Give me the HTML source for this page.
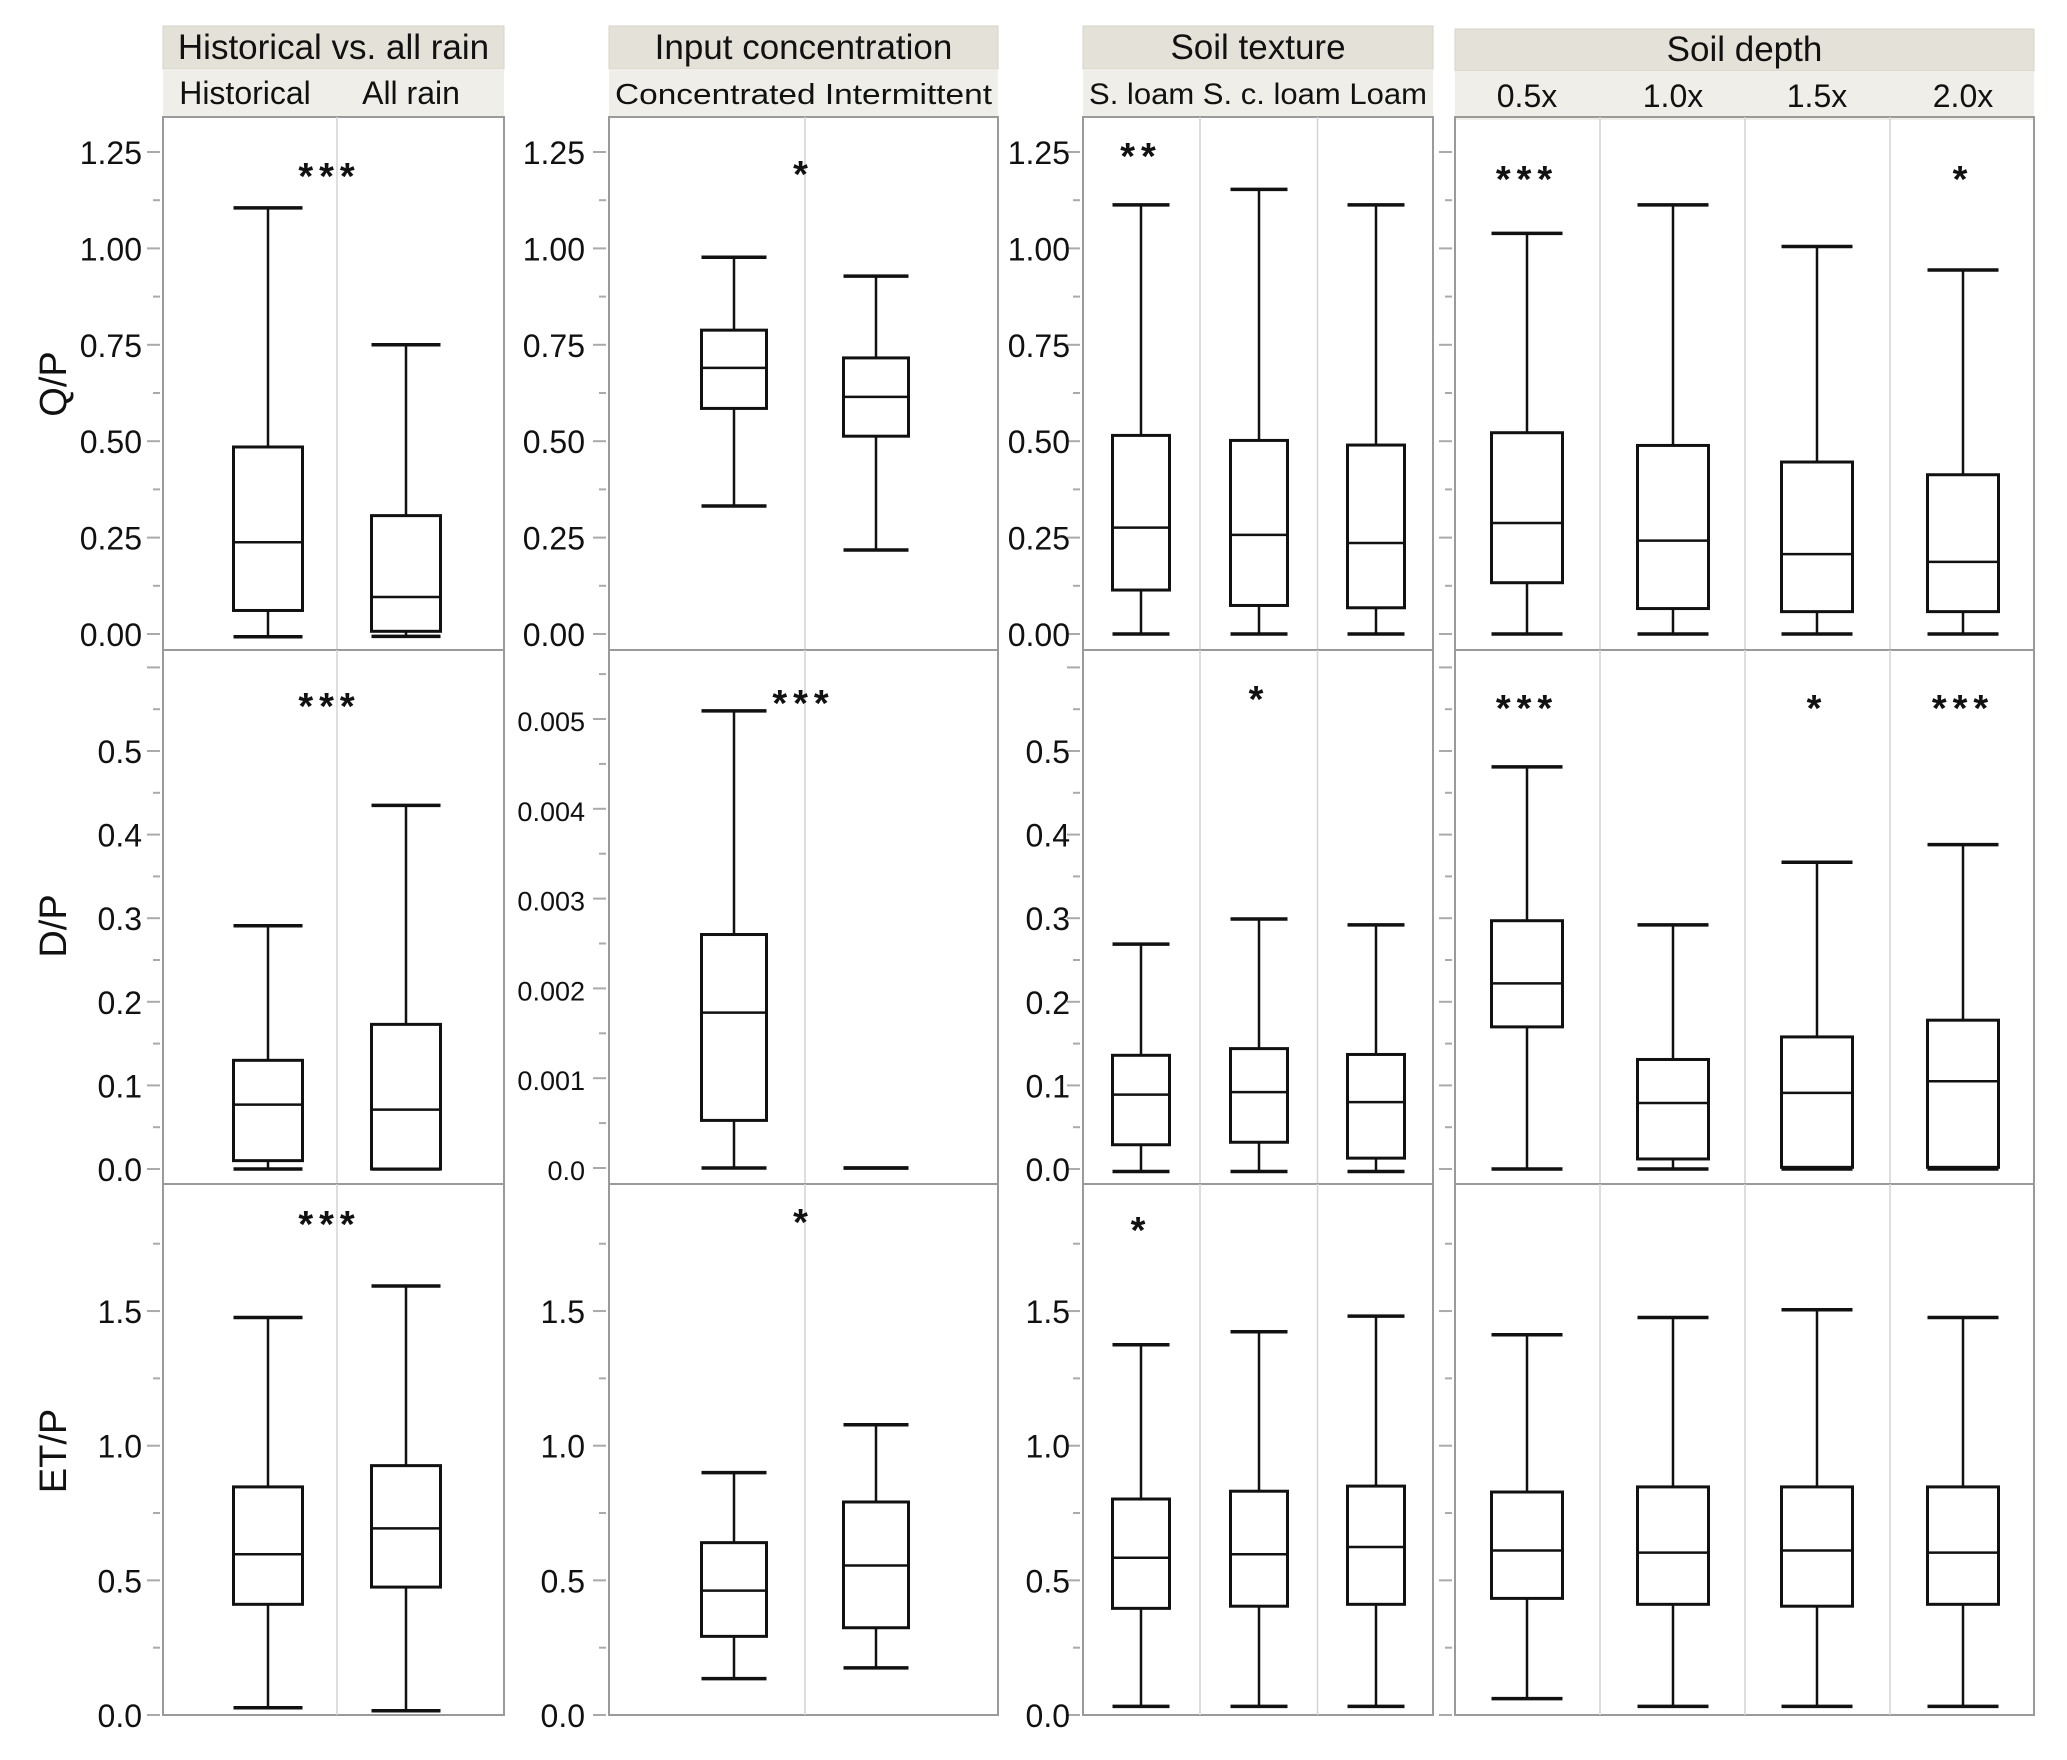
<!DOCTYPE html>
<html><head><meta charset="utf-8"><style>
html,body{margin:0;padding:0;background:#fff;}
svg{display:block;font-family:"Liberation Sans",sans-serif;}
</style></head><body>
<svg id="chart" width="2067" height="1760" viewBox="0 0 2067 1760" xmlns="http://www.w3.org/2000/svg"></svg>
<script>
// ===== data: [low whisker, Q1, median, Q3, high whisker] =====
const groupTitles = ['Historical vs. all rain','Input concentration','Soil texture','Soil depth'];
const catHist = ['Historical','All rain'];
const catConc = ['Concentrated','Intermittent'];
const catSoil = ['S. loam','S. c. loam','Loam'];
const catDepth = ['0.5x','1.0x','1.5x','2.0x'];
const rowTitles = ['Q/P','D/P','ET/P'];

const qpHist  = [[-0.007,0.061,0.238,0.485,1.105],[-0.006,0.007,0.096,0.307,0.75]];
const qpConc  = [[0.332,0.585,0.69,0.788,0.977],[0.218,0.513,0.615,0.716,0.928]];
const qpSoil  = [[0,0.114,0.276,0.515,1.113],[0,0.074,0.257,0.502,1.153],[0,0.068,0.236,0.49,1.113]];
const qpDepth = [[0,0.133,0.288,0.522,1.039],[0,0.066,0.242,0.489,1.113],[0,0.058,0.207,0.446,1.005],[0,0.058,0.187,0.413,0.944]];

const dpHist  = [[0,0.010,0.077,0.130,0.291],[0,0,0.071,0.173,0.435]];
const dpConc  = [[0,0.00053,0.00173,0.0026,0.00509],[0,0,0,0,0]];
const dpSoil  = [[-0.003,0.029,0.089,0.136,0.269],[-0.003,0.032,0.092,0.144,0.299],[-0.003,0.013,0.08,0.137,0.292]];
const dpDepth = [[0,0.17,0.222,0.297,0.481],[0,0.012,0.079,0.131,0.292],[0,0.002,0.091,0.158,0.367],[0,0.002,0.105,0.178,0.388]];

const etHist  = [[0.027,0.411,0.597,0.847,1.476],[0.016,0.475,0.693,0.926,1.593]];
const etConc  = [[0.135,0.292,0.462,0.64,0.9],[0.175,0.324,0.555,0.791,1.078]];
const etSoil  = [[0.032,0.396,0.584,0.802,1.375],[0.032,0.404,0.597,0.831,1.423],[0.032,0.411,0.624,0.85,1.481]];
const etDepth = [[0.061,0.433,0.611,0.828,1.412],[0.032,0.411,0.603,0.847,1.476],[0.032,0.404,0.611,0.847,1.505],[0.032,0.411,0.603,0.847,1.476]];

const tickQ = ['0.00','0.25','0.50','0.75','1.00','1.25'];
const tickD = ['0.0','0.1','0.2','0.3','0.4','0.5'];
const tickDc = ['0.0','0.001','0.002','0.003','0.004','0.005'];
const tickE = ['0.0','0.5','1.0','1.5'];

const sigQ = [['***'],['*'],['**','',''],['***','','','*']];
const sigD = [['***'],['***'],['','*',''],['***','','*','***']];
const sigE = [['***'],['*'],['*','',''],['','','','']];

// ===== layout =====
const NS='http://www.w3.org/2000/svg';
const svg=document.getElementById('chart');
function mk(tag,attrs,parent){const e=document.createElementNS(NS,tag);for(const k in attrs)e.setAttribute(k,attrs[k]);(parent||svg).appendChild(e);return e;}

const cols=[
 {x0:163,x1:504,centers:[268,406],bw:69,hTop:26,hMid:69,hBot:117,labX:142,cats:catHist,labels:true},
 {x0:609,x1:998,centers:[734,876],bw:65,hTop:26,hMid:69,hBot:117,labX:585,cats:catConc,labels:true},
 {x0:1083,x1:1433,centers:[1141,1259,1376],bw:57,hTop:26,hMid:69,hBot:117,labX:1070,cats:catSoil,labels:true},
 {x0:1455,x1:2034,centers:[1527,1673,1817,1963],bw:71,hTop:29,hMid:71,hBot:120,labX:0,cats:catDepth,labels:false}
];
const rows=[{top:117,bot:650},{top:650,bot:1184},{top:1184,bot:1715}];
const rowData=[[qpHist,qpConc,qpSoil,qpDepth],[dpHist,dpConc,dpSoil,dpDepth],[etHist,etConc,etSoil,etDepth]];
const rowSig=[sigQ,sigD,sigE];
function yScale(r,c,v){
  if(r===0) return 634 - v*385.6;
  if(r===1){ if(c===1) return 1168 - v*89800; return 1169 - v*836; }
  return 1715 - v*269.3;
}
function tickSet(r,c){
  if(r===0) return {labels:tickQ,step:0.25,minor:0.125};
  if(r===1){ if(c===1) return {labels:tickDc,step:0.001,minor:0.0005}; return {labels:tickD,step:0.1,minor:0.05}; }
  return {labels:tickE,step:0.5,minor:0.25};
}

cols.forEach((c,ci)=>{
  const h=mk('rect',{x:c.x0,y:c.hTop,width:c.x1-c.x0,height:c.hMid-c.hTop,fill:'#e4e2d8',stroke:'#d6d4ca','stroke-width':1});
  
  
  const s=mk('rect',{x:c.x0,y:c.hMid,width:c.x1-c.x0,height:c.hBot-c.hMid,fill:'#efeee8'});
  
  
  const t=mk('text',{x:(c.x0+c.x1)/2,y:c.hMid-10,'text-anchor':'middle','font-size':35,fill:'#111'});
  t.textContent=groupTitles[ci];
  
  
  if(ci===2||ci===1){
    const tt=mk('text',{x:(c.x0+c.x1)/2,y:c.hBot-13,'text-anchor':'middle','font-size':ci===1?29:30,fill:'#111',textLength:c.x1-c.x0-12,lengthAdjust:'spacingAndGlyphs'});
    tt.textContent=c.cats.join(' ');
    
    
  } else {
    c.cats.forEach((nm,k)=>{
      const cx = ci===0 ? [c.x0+82,c.x0+248][k] : c.centers[k];
      const tt=mk('text',{x:cx,y:c.hBot-13,'text-anchor':'middle','font-size':32,fill:'#111'});
      tt.textContent=nm;
      
      
    });
  }
});

rows.forEach((rw,ri)=>{
  cols.forEach((c,ci)=>{
    const fr=mk('rect',{x:c.x0,y:rw.top,width:c.x1-c.x0,height:rw.bot-rw.top,fill:'none',stroke:'#9a9a9a','stroke-width':2});
    
    
    for(let k=1;k<c.centers.length;k++){
      const dx=(c.centers[k-1]+c.centers[k])/2;
      const dl=mk('line',{x1:dx,x2:dx,y1:rw.top,y2:rw.bot,stroke:'#d4d4d4','stroke-width':1.5});
      
      
    }
    const ts=tickSet(ri,ci);
    const tx=c.x0-3;
    const nMinor=Math.round((ts.labels.length-1)*ts.step/ts.minor)+2;
    for(let m=0;m<=nMinor;m++){
      const v=m*ts.minor; const y=yScale(ri,ci,v);
      if(y<rw.top+8) continue;
      const major=(m%Math.round(ts.step/ts.minor)===0);
      const tl=mk('line',{x1:tx-(major?13:7),x2:tx,y1:y,y2:y,stroke:'#aaa','stroke-width':2});
      
      
    }
    if(c.labels){
      ts.labels.forEach((lb,k)=>{
        const y=yScale(ri,ci,k*ts.step);
        const t=mk('text',{x:c.labX,y:y+12,'text-anchor':'end','font-size':ci===1&&ri===1?27:32,fill:'#111'});
        t.textContent=lb;
        
        
      });
    }
    const data=rowData[ri][ci];
    data.forEach((d,k)=>{
      const cx=c.centers[k], hw=c.bw/2;
      const g=mk('g',{});
      
      
      const yl=yScale(ri,ci,d[0]),y1=yScale(ri,ci,d[1]),ym=yScale(ri,ci,d[2]),y3=yScale(ri,ci,d[3]),yh=yScale(ri,ci,d[4]);
      mk('line',{x1:cx,x2:cx,y1:yh,y2:y3,stroke:'#111','stroke-width':2.5},g);
      mk('line',{x1:cx,x2:cx,y1:y1,y2:yl,stroke:'#111','stroke-width':2.5},g);
      mk('line',{x1:cx-hw,x2:cx+hw,y1:yh,y2:yh,stroke:'#111','stroke-width':3.5},g);
      mk('line',{x1:cx-hw,x2:cx+hw,y1:yl,y2:yl,stroke:'#111','stroke-width':3.5},g);
      mk('rect',{x:cx-hw,y:y3,width:c.bw,height:Math.max(0,y1-y3),fill:'#fff',stroke:'#111','stroke-width':3},g);
      mk('line',{x1:cx-hw,x2:cx+hw,y1:ym,y2:ym,stroke:'#111','stroke-width':2.5},g);
    });
    const sg=rowSig[ri][ci];
    sg.forEach((s,k)=>{
      if(!s) return;
      const cx = ci<=1 ? (c.x0+c.x1)/2+ (ci===0?-4:0) : c.centers[k];
      const yoff = [[48,46,28,51],[45,42,38,47],[29,27,35,0]][ri][ci];
      const t=mk('text',{x:cx,y:rw.top+yoff+24,'text-anchor':'middle','font-size':38,'font-weight':'bold',fill:'#111','letter-spacing':6});
      t.textContent=s;
      
      
    });
  });
  const cy=[384,926,1451][ri];
  const t=mk('text',{x:0,y:0,'text-anchor':'middle','font-size':38,fill:'#111',transform:'translate(66,'+cy+') rotate(-90)'});
  t.textContent=rowTitles[ri];
  
  
});
</script>
</body></html>
